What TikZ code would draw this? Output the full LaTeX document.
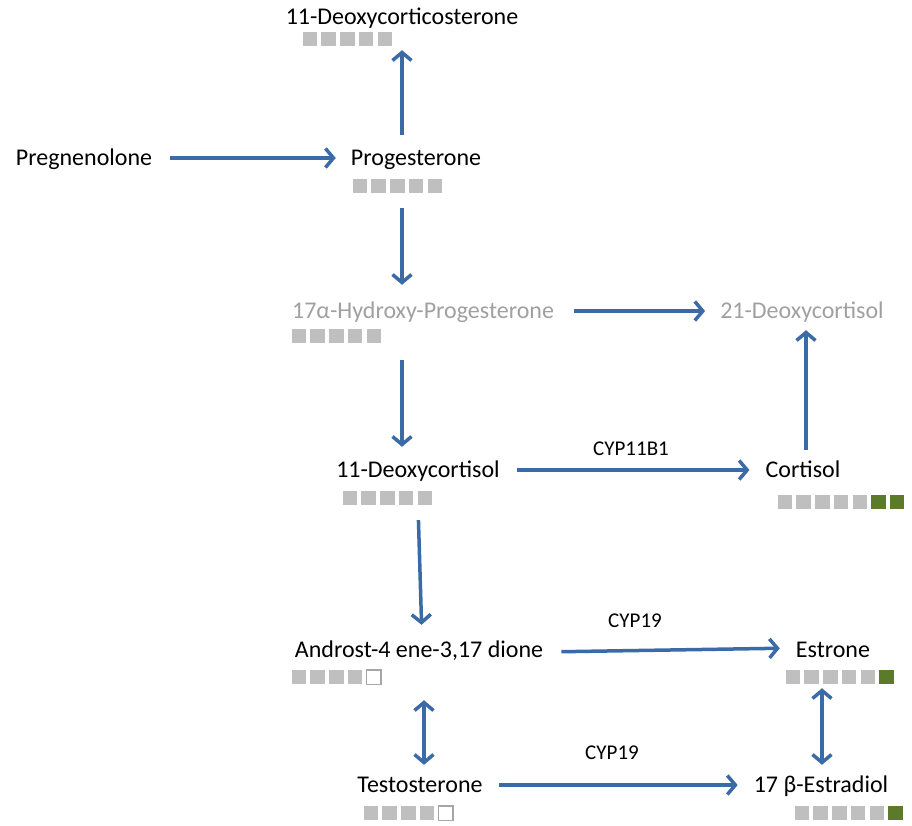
\documentclass[tikz,border=0pt]{standalone}
\usepackage{fontspec}
\setmainfont{Carlito}
\usetikzlibrary{arrows.meta,calc}
\definecolor{arrblue}{HTML}{3A6BA7}
\definecolor{sqgray}{HTML}{BFBFBF}
\definecolor{sqgreen}{HTML}{5B7B2A}
\definecolor{outgray}{HTML}{A6A6A6}
\definecolor{txtgray}{HTML}{A0A0A0}
\tikzset{
  mol/.style={inner sep=0pt, text height=18pt, text depth=3pt, font=\fontsize{24}{28}\selectfont},
  dim/.style={text=txtgray},
  enz/.style={inner sep=0pt, font=\fontsize{21}{25}\selectfont},
  arr/.style={draw=arrblue, line width=3.5pt, -{Straight Barb[length=8pt,width=19pt,line width=3.5pt]}},
  darr/.style={draw=arrblue, line width=3.5pt, {Straight Barb[length=8pt,width=19pt,line width=3.5pt]}-{Straight Barb[length=8pt,width=19pt,line width=3.5pt]}},
  rowbox/.style={inner sep=0pt, minimum width=14pt, minimum height=14pt},
  sqg/.style={fill=sqgray},
  sqG/.style={fill=sqgreen},
  sqo/.style={fill=white, draw=outgray, line width=1.5pt},
}
\newcommand\sqrow[4]{%
  \node[rowbox] (#1) at (#2,#3) {};
  \foreach \c [count=\i from 0] in {#4} {
    \ifx\c o
      \path[sqo] (#2+\i*18.7-6.5,#3-6.5) rectangle ++(13,13);
    \else
      \path[sq\c] (#2+\i*18.7-7.25,#3-7.25) rectangle ++(14.5,14.5);
    \fi
  }%
}
\begin{document}
\begin{tikzpicture}[x=1pt,y=-1pt]
\useasboundingbox (0,0) rectangle (912,825);
% molecules
\node[mol] (dcs) at (402,17) {11-Deoxycorticosterone};
\node[mol] (preg) at (84,158) {Pregnenolone};
\node[mol] (prog) at (416,158) {Progesterone};
\node[mol,dim] (ohp) at (423,311) {17α-Hydroxy-Progesterone};
\node[mol,dim] (ddc) at (802,311) {21-Deoxycortisol};
\node[mol] (dc) at (418,470) {11-Deoxycortisol};
\node[mol] (cort) at (803,470) {Cortisol};
\node[mol] (andro) at (419,650) {Androst-4 ene-3,17 dione};
\node[mol] (estrone) at (833,650) {Estrone};
\node[mol] (testo) at (420,785) {Testosterone};
\node[mol] (estradiol) at (821,785) {17 β-Estradiol};
% enzyme labels
\node[enz] (cyp1) at (631,449) {CYP11B1};
\node[enz] (cyp2) at (635,621) {CYP19};
\node[enz] (cyp3) at (612,753) {CYP19};
% square rows
\sqrow{dcs-sq}{310}{39}{g,g,g,g,g}
\sqrow{prog-sq}{360}{186}{g,g,g,g,g}
\sqrow{ohp-sq}{299}{336}{g,g,g,g,g}
\sqrow{dc-sq}{350}{498}{g,g,g,g,g}
\sqrow{cort-sq}{785}{502}{g,g,g,g,g,G,G}
\sqrow{andro-sq}{299}{677}{g,g,g,g,o}
\sqrow{estrone-sq}{793}{677}{g,g,g,g,g,G}
\sqrow{testo-sq}{371}{813}{g,g,g,g,o}
\sqrow{estradiol-sq}{802}{813}{g,g,g,g,g,G}
% arrows
\draw[arr, shorten <=12.5pt, shorten >=4pt] (dcs.center |- prog.north) -- (dcs.center |- dcs-sq.south);
\draw[arr, shorten <=18pt, shorten >=15pt] (preg.east) -- (prog.west);
\draw[arr, shorten <=15pt, shorten >=15.5pt] (dcs.center |- prog-sq.south) -- (dcs.center |- ohp.north);
\draw[arr, shorten <=20pt, shorten >=15pt] (ohp.east) -- (ohp.east -| ddc.west);
\draw[arr, shorten <=9.5pt, shorten >=8.5pt] ([xshift=3pt]cort.north) -- ([xshift=3pt]cort.north |- ddc.south);
\draw[arr, shorten <=17pt, shorten >=12.5pt] (dcs.center |- ohp-sq.south) -- (dcs.center |- dc.north);
\draw[arr, shorten <=17pt, shorten >=16pt] (dc.east) -- (cort.west);
\draw[arr, shorten <=15pt, shorten >=14.5pt] (dc.center |- dc-sq.south) -- ([xshift=3pt]andro.north);
\draw[arr, shorten <=18pt, shorten >=16pt] ([yshift=-2pt]andro.east) -- ([yshift=2pt]estrone.west);
\draw[darr, shorten <=16pt, shorten >=9.5pt] ([xshift=5pt]andro.center |- andro-sq.south) -- ([xshift=5pt]andro.center |- testo.north);
\draw[arr, shorten <=16pt, shorten >=16pt] (testo.east) -- (estradiol.west);
\draw[darr, shorten <=4pt, shorten >=9.5pt] ([xshift=1pt]estradiol.center |- estrone-sq.south) -- ([xshift=1pt]estradiol.north);
\end{tikzpicture}
\end{document}
